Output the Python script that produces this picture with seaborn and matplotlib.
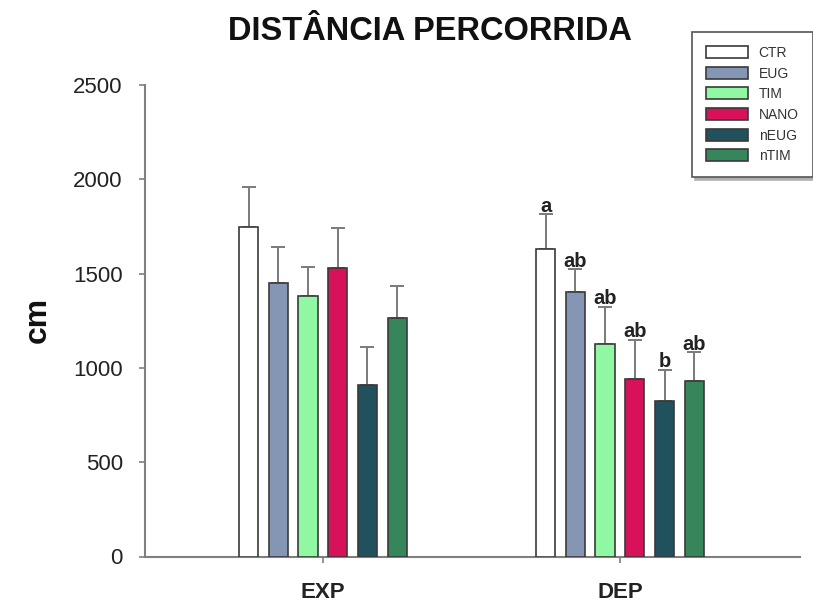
import matplotlib
matplotlib.use("Agg")
import matplotlib.pyplot as plt
import seaborn as sns
import pandas as pd

# ---- data ----
periods = ["EXP", "DEP"]
treatments = ["CTR", "EUG", "TIM", "NANO", "nEUG", "nTIM"]
exp_means = [1749, 1452, 1381, 1531, 909, 1266]
exp_err = [209, 191, 154, 212, 200, 170]
dep_means = [1629, 1402, 1127, 941, 823, 932]
dep_err = [185, 121, 197, 207, 166, 152]
dep_letters = ["a", "ab", "ab", "ab", "b", "ab"]
yticks = [0, 500, 1000, 1500, 2000, 2500]
colors = ["#ffffff", "#8596b4", "#90f7a2", "#d8125a", "#20515c", "#37855a"]

rows = []
for p, means, errs in [("EXP", exp_means, exp_err), ("DEP", dep_means, dep_err)]:
    for t, m, e in zip(treatments, means, errs):
        rows.append({"period": p, "treatment": t, "mean": m, "err": e})
df = pd.DataFrame(rows)

sns.set_style("ticks")
plt.rcParams["font.family"] = ["Liberation Sans", "DejaVu Sans"]

fig = plt.figure(figsize=(8.13, 6.01), dpi=100)
ax = fig.add_axes([145 / 813, (601 - 556.5) / 601, (800 - 145) / 813, (556.5 - 85) / 601])

sns.barplot(data=df, x="period", y="mean", hue="treatment", order=periods,
            hue_order=treatments, palette=colors, saturation=1, errorbar=None,
            width=0.6, gap=0.35, edgecolor="#3a3a3a", linewidth=1.2, ax=ax, zorder=3)

bar_conts = list(ax.containers)
# one-sided error bars + letters
for ti, cont in enumerate(bar_conts):
    for pi, bar in enumerate(cont):
        xc = bar.get_x() + bar.get_width() / 2
        h = bar.get_height()
        sub = df[(df.period == periods[pi]) & (df.treatment == treatments[ti])]
        e = float(sub["err"].iloc[0])
        ax.errorbar([xc], [h], yerr=[[0], [e]], fmt="none", ecolor="#7a7a7a",
                    elinewidth=1.4, capsize=5, capthick=1.4, zorder=2)
        if periods[pi] == "DEP":
            ax.text(xc, h + e - 8, dep_letters[ti], ha="center", va="bottom",
                    fontsize=14.5, fontweight="bold", color="#222222", zorder=4)

ax.set_ylim(0, 2500)
ax.set_xlim(-0.599, 1.606)
ax.set_yticks(yticks)
ax.set_yticklabels([str(v) for v in yticks], fontsize=16, color="#222222")
ax.set_xticks([0, 1])
ax.set_xticklabels(periods, fontsize=16, fontweight="bold", color="#222222")
ax.tick_params(axis="y", length=4, width=1.2, color="#7f7f7f", pad=12)
ax.tick_params(axis="x", length=4, width=1.2, color="#7f7f7f", pad=14)
ax.set_xlabel("")
ax.set_ylabel("")
for s in ["top", "right"]:
    ax.spines[s].set_visible(False)
for s in ["left", "bottom"]:
    ax.spines[s].set_color("#7f7f7f")
    ax.spines[s].set_linewidth(1.5)

fig.text(38 / 813, 1 - 320 / 601, "cm", rotation=90, ha="center", va="center",
         fontsize=23, fontweight="bold", color="#111111")
fig.text(430 / 813, 1 - 31 / 601, "DISTÂNCIA PERCORRIDA", ha="center", va="center",
         fontsize=23.5, fontweight="bold", color="#111111")

handles, labels = ax.get_legend_handles_labels()
if ax.get_legend() is not None:
    ax.get_legend().remove()
leg = fig.legend(handles, labels, loc="upper left",
                 bbox_to_anchor=(692 / 813, 1 - 32 / 601), bbox_transform=fig.transFigure,
                 fontsize=10, frameon=True, fancybox=False, shadow={"color": "#b0b0b0", "alpha": 1},
                 handlelength=3.0, handleheight=0.95, handletextpad=0.8,
                 labelspacing=0.48, borderpad=1.0, borderaxespad=0)
leg.get_frame().set_edgecolor("#555555")
leg.get_frame().set_linewidth(1.2)
for t in leg.get_texts():
    t.set_color("#333333")

fig.savefig("out.png", dpi=100)
